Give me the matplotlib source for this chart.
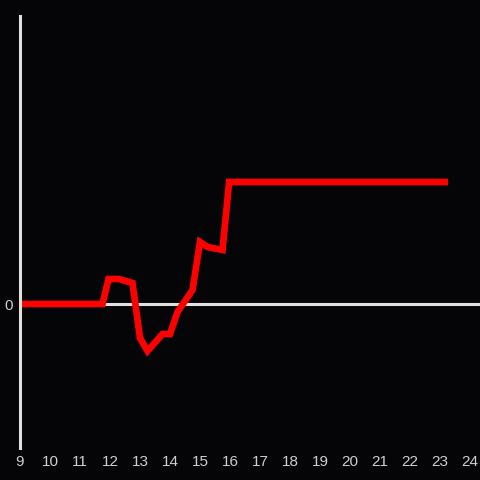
import matplotlib
matplotlib.use("Agg")
import matplotlib.pyplot as plt

# hours of day and value (arbitrary units, 0 = baseline)
hours = [9.0, 11.75, 11.95, 12.3, 12.75, 13.0, 13.25, 13.75, 14.0, 14.25,
         14.75, 15.0, 15.25, 15.75, 15.97, 16.1, 23.27]
values = [0, 0, 25, 25, 21, -34, -47, -30, -30, -8,
          14, 62, 57, 54, 122, 122, 122]
xticks = list(range(9, 25))

bg = "#050407"
plt.rcParams["font.family"] = ["Liberation Sans", "DejaVu Sans"]

fig = plt.figure(figsize=(4.8, 4.8), dpi=100, facecolor=bg)
ax = fig.add_axes([20 / 480, 32 / 480, 460 / 480, 432 / 480])
ax.set_facecolor(bg)

ax.axhline(0, color="#e0e0e0", lw=2.2, zorder=1)
ax.plot(hours, values, color="#ff0000", lw=4.8, zorder=2,
        solid_joinstyle="miter", solid_capstyle="butt")

ax.set_xlim(9, 9 + 460 / 30)
ax.set_ylim(-144, 288)
ax.set_xticks(xticks)
ax.set_yticks([0])
ax.tick_params(colors="#cfcfcf", labelsize=11, length=0, pad=5)

for s in ["top", "right", "bottom"]:
    ax.spines[s].set_visible(False)
ax.spines["left"].set_color("#e0e0e0")
ax.spines["left"].set_linewidth(2.2)

fig.savefig("out.png", dpi=100, facecolor=bg)
